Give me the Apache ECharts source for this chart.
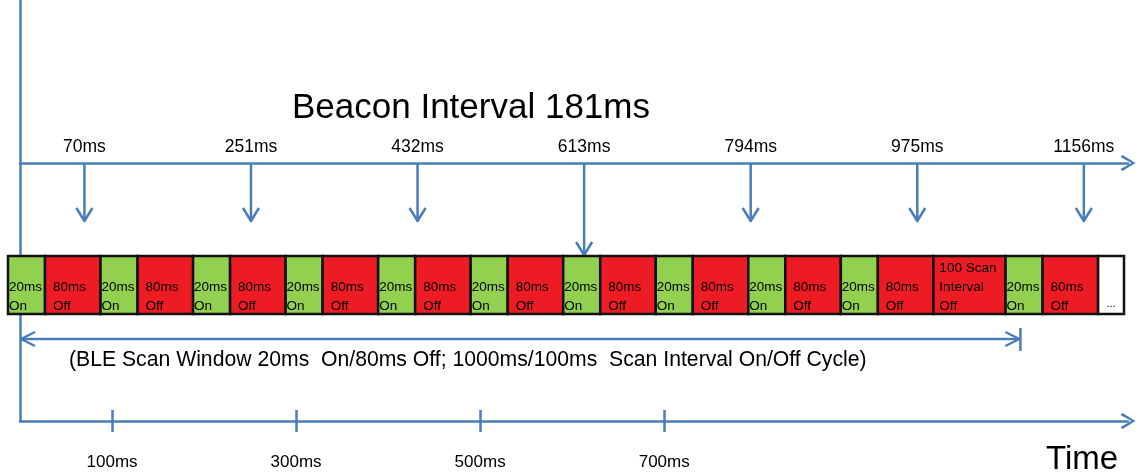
<!DOCTYPE html>
<html>
<head>
<meta charset="utf-8">
<script src="https://cdn.jsdelivr.net/npm/echarts@6.0.0/dist/echarts.min.js"></script>
<style>
  html, body { margin: 0; padding: 0; background: #fff; }
  #chart { width: 1138px; height: 474px; }
</style>
</head>
<body>
<div id="chart"></div>
<script>
// beacon advertising times, ms
const beaconTimes = [70, 251, 432, 613, 794, 975, 1156];
// the beacon that lands inside a scan window
const caughtBeacon = 613;
// labelled ticks on the time axis, ms
const timeTicks = [100, 300, 500, 700];
const timeMax = 1204;
// span of the scan cycle arrow, ms
const cycleSpan = [0, 1086];
// scan strip blocks, left to right
const scanBlocks = [
  'on', 'off', 'on', 'off', 'on', 'off', 'on', 'off', 'on', 'off',
  'on', 'off', 'on', 'off', 'on', 'off', 'on', 'off', 'on', 'off',
  'interval', 'on', 'off', 'more'
];
const blockText = {
  on: '20ms\nOn',
  off: '80ms\nOff',
  interval: '100 Scan\nInterval\nOff',
  more: '...'
};

const BLUE = '#4A7EBB';
const FONT = '"Liberation Sans", Arial, sans-serif';
const blockWidth = { on: 2, off: 3, interval: 3.9, more: 1.4 };
const blockFill = { on: '#92D050', off: '#ED1C24', interval: '#ED1C24', more: '#ffffff' };
const blockPad = { on: 1, off: 8, interval: 6, more: 0 };

let acc = 0;
const stripLayout = scanBlocks.map(function (k) {
  const b = { kind: k, start: acc, width: blockWidth[k] };
  acc += blockWidth[k];
  return b;
});
const stripMax = acc;

// open arrow head used on axis ends
const chevron = 'path://M8,0 L16,13 L14,15 L8,4 L2,15 L0,13 Z';
const msLabel = function (v) { return v + 'ms'; };

function arrowHead(x, y, dir, len, half) {
  // dir: 'down', 'left', 'right'
  let pts;
  if (dir === 'down') pts = [[x - half, y - len], [x, y], [x + half, y - len]];
  else if (dir === 'left') pts = [[x + len, y - half], [x, y], [x + len, y + half]];
  else pts = [[x - len, y - half], [x, y], [x - len, y + half]];
  return { type: 'polyline', shape: { points: pts }, style: { stroke: BLUE, lineWidth: 2.5, fill: null, lineJoin: 'round' } };
}

const chart = echarts.init(document.getElementById('chart'));
chart.setOption({
  animation: false,
  graphic: [
    { type: 'text', left: 292, top: 91, style: { text: 'Beacon Interval 181ms', font: '35px ' + FONT, fill: '#000' } },
    { type: 'text', left: 69, top: 350, style: { text: '(BLE Scan Window 20ms  On/80ms Off; 1000ms/100ms  Scan Interval On/Off Cycle)', font: '21.2px ' + FONT, fill: '#000' } },
    { type: 'text', left: 1046, top: 443, style: { text: 'Time', font: '33px ' + FONT, fill: '#000' } }
  ],
  grid: [
    { left: 20, right: 10, top: 0, bottom: 53 },
    { left: 8, width: 1116, top: 256, height: 58 }
  ],
  xAxis: [
    {
      gridIndex: 0, type: 'value', min: 0, max: timeMax, position: 'bottom',
      axisLine: { show: true, onZero: false, symbol: ['none', chevron], symbolSize: [16, 15], lineStyle: { color: BLUE, width: 2.5 } },
      axisTick: { show: true, customValues: timeTicks, length: 11, lineStyle: { color: BLUE, width: 2.5 } },
      axisLabel: { customValues: timeTicks, formatter: msLabel, margin: 33, color: '#000', fontSize: 17, fontFamily: FONT },
      splitLine: { show: false }
    },
    {
      gridIndex: 0, type: 'value', min: 0, max: timeMax, position: 'top', offset: -163,
      axisLine: { show: true, onZero: false, symbol: ['none', chevron], symbolSize: [16, 15], lineStyle: { color: BLUE, width: 2.5 } },
      axisTick: { show: false },
      axisLabel: { customValues: beaconTimes, formatter: msLabel, margin: 7, color: '#000', fontSize: 17.5, fontFamily: FONT },
      splitLine: { show: false }
    },
    {
      gridIndex: 0, type: 'value', min: 0, max: timeMax, position: 'bottom',
      axisLine: { show: false, onZero: false },
      axisTick: { show: true, inside: true, customValues: timeTicks, length: 11, lineStyle: { color: BLUE, width: 2.5 } },
      axisLabel: { show: false },
      splitLine: { show: false }
    },
    {
      gridIndex: 1, type: 'value', min: 0, max: stripMax, show: false
    }
  ],
  yAxis: [
    {
      gridIndex: 0, type: 'value', min: 0, max: 1,
      axisLine: { show: true, onZero: false, lineStyle: { color: BLUE, width: 2.5 } },
      axisTick: { show: false }, axisLabel: { show: false }, splitLine: { show: false }
    },
    { gridIndex: 1, type: 'value', min: 0, max: 1, show: false }
  ],
  series: [
    {
      name: 'beacons',
      type: 'custom',
      xAxisIndex: 1, yAxisIndex: 0,
      data: beaconTimes.map(function (t) { return [t]; }),
      renderItem: function (params, api) {
        const t = api.value(0);
        const x = api.coord([t, 0])[0];
        const y0 = 163;
        const y1 = t === caughtBeacon ? 256 : 222;
        return {
          type: 'group',
          children: [
            { type: 'line', shape: { x1: x, y1: y0, x2: x, y2: y1 - 1 }, style: { stroke: BLUE, lineWidth: 2.5 } },
            arrowHead(x, y1 - 1, 'down', 13, 8)
          ]
        };
      },
      z: 3
    },
    {
      name: 'cycle',
      type: 'custom',
      xAxisIndex: 0, yAxisIndex: 0,
      data: [cycleSpan],
      renderItem: function (params, api) {
        const xa = api.coord([api.value(0), 0])[0];
        const xb = api.coord([api.value(1), 0])[0];
        const y = 339;
        return {
          type: 'group',
          children: [
            { type: 'line', shape: { x1: xa, y1: y, x2: xb, y2: y }, style: { stroke: BLUE, lineWidth: 2.5 } },
            arrowHead(xa + 1, y, 'left', 14, 7),
            arrowHead(xb, y, 'right', 14, 7),
            { type: 'line', shape: { x1: xb + 1, y1: y - 11, x2: xb + 1, y2: y + 12 }, style: { stroke: BLUE, lineWidth: 2.5 } }
          ]
        };
      },
      z: 3
    },
    {
      name: 'scan',
      type: 'custom',
      xAxisIndex: 3, yAxisIndex: 1,
      data: stripLayout.map(function (b, i) { return [i]; }),
      renderItem: function (params, api) {
        const b = stripLayout[params.dataIndex];
        const p0 = api.coord([b.start, 1]);
        const p1 = api.coord([b.start + b.width, 0]);
        const isMore = b.kind === 'more';
        return {
          type: 'group',
          children: [
            {
              type: 'rect',
              shape: { x: p0[0], y: p0[1], width: p1[0] - p0[0], height: p1[1] - p0[1] },
              style: { fill: blockFill[b.kind], stroke: '#111', lineWidth: 2.5 }
            },
            {
              type: 'text',
              x: isMore ? (p0[0] + p1[0]) / 2 : p0[0] + blockPad[b.kind],
              y: p1[1] + (isMore ? -1 : 2),
              style: {
                text: blockText[b.kind],
                font: (isMore ? '11px ' : '13.5px ') + FONT,
                fill: '#000',
                align: isMore ? 'center' : 'left',
                verticalAlign: 'bottom',
                lineHeight: 19
              }
            }
          ]
        };
      },
      z: 4
    }
  ]
});
</script>
</body>
</html>
